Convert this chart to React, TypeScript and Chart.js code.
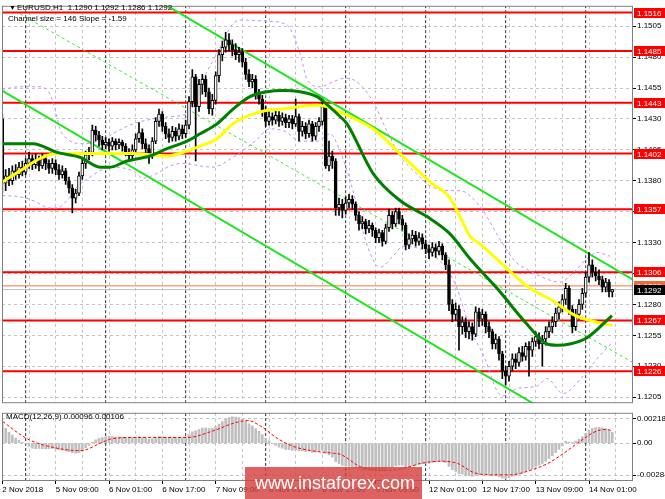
import React, { useEffect, useRef } from 'react';
import { Chart, registerables } from 'chart.js';

Chart.register(...registerables);

const FONT_FAMILY = '"Liberation Sans", Arial, sans-serif';

// ---------- EURUSD H1 candles, bar 0 = 2 Nov 17:00 ----------
const FIRST_OPEN = 1.143;
const CLOSES = [
  1.1378, 1.1384, 1.1380, 1.1388, 1.1385, 1.1391, 1.1387, 1.1394,
  1.1398, 1.1393, 1.1397, 1.1392, 1.1398, 1.1394, 1.1390, 1.1394,
  1.1389, 1.1385, 1.1388, 1.1380, 1.1374, 1.1366, 1.1370, 1.1384,
  1.1394, 1.1401, 1.1403, 1.1421, 1.1417, 1.1413, 1.1409, 1.1411,
  1.1408, 1.1412, 1.1409, 1.1411, 1.1408, 1.1403, 1.1400, 1.1405,
  1.1414, 1.1419, 1.1410, 1.1406, 1.1400, 1.1412, 1.1428, 1.1434,
  1.1424, 1.1418, 1.1415, 1.1420, 1.1416, 1.1422, 1.1418, 1.1425,
  1.1444, 1.1464, 1.1440, 1.1458, 1.1462, 1.1452, 1.1438, 1.1445,
  1.1465, 1.1482, 1.1488, 1.1494, 1.1490, 1.1486, 1.1482, 1.1484,
  1.1476, 1.1466, 1.1460, 1.1462, 1.1450, 1.1446, 1.1436, 1.1428,
  1.1432, 1.1429, 1.1433, 1.1428, 1.1431, 1.1427, 1.1430, 1.1426,
  1.1432, 1.1420, 1.1424, 1.1418, 1.1426, 1.1416, 1.1424, 1.1428,
  1.1440, 1.1392, 1.1400, 1.1396, 1.1358, 1.1361, 1.1356, 1.1362,
  1.1365, 1.1361, 1.1352, 1.1345, 1.1347, 1.1341, 1.1344, 1.1340,
  1.1334, 1.1338, 1.1331, 1.1342, 1.1352, 1.1345, 1.1355, 1.1349,
  1.1344, 1.1328, 1.1333, 1.1336, 1.1331, 1.1334, 1.1329, 1.1325,
  1.1322, 1.1326, 1.1323, 1.1327, 1.1320, 1.1312, 1.1280, 1.1272,
  1.1276, 1.1262, 1.1266, 1.1258, 1.1262, 1.1256, 1.1274, 1.1268,
  1.1272, 1.1262, 1.1258, 1.1248, 1.1252, 1.1240, 1.1226, 1.1222,
  1.1230, 1.1236, 1.1233, 1.1241, 1.1238, 1.1246, 1.1243, 1.1250,
  1.1254, 1.1248, 1.1252, 1.1258, 1.1262, 1.1266, 1.1273, 1.1278,
  1.1284, 1.1293, 1.1276, 1.1262, 1.1272, 1.1280, 1.1289, 1.1302,
  1.1312, 1.1306, 1.1303, 1.1300, 1.1294, 1.1298, 1.1290, 1.1292,
];
const HIGHS = [
  1.1434, 1.1389, 1.1390, 1.1392, 1.1393, 1.1395, 1.1396, 1.1398,
  1.1403, 1.1401, 1.1402, 1.1400, 1.1402, 1.1400, 1.1397, 1.1398,
  1.1397, 1.1393, 1.1392, 1.1390, 1.1383, 1.1377, 1.1373, 1.1387,
  1.1398, 1.1404, 1.1407, 1.1425, 1.1424, 1.1420, 1.1416, 1.1415,
  1.1414, 1.1415, 1.1414, 1.1414, 1.1413, 1.1410, 1.1406, 1.1409,
  1.1418, 1.1427, 1.1422, 1.1414, 1.1409, 1.1415, 1.1431, 1.1438,
  1.1436, 1.1427, 1.1422, 1.1424, 1.1423, 1.1426, 1.1425, 1.1429,
  1.1448, 1.1470, 1.1466, 1.1462, 1.1466, 1.1465, 1.1455, 1.1450,
  1.1468, 1.1486, 1.1493, 1.1500, 1.1499, 1.1494, 1.1491, 1.1488,
  1.1487, 1.1479, 1.1470, 1.1466, 1.1465, 1.1454, 1.1449, 1.1440,
  1.1436, 1.1435, 1.1437, 1.1436, 1.1435, 1.1434, 1.1433, 1.1433,
  1.1446, 1.1434, 1.1428, 1.1427, 1.1429, 1.1428, 1.1427, 1.1431,
  1.1446, 1.1442, 1.1412, 1.1404, 1.1398, 1.1366, 1.1365, 1.1367,
  1.1369, 1.1368, 1.1363, 1.1355, 1.1351, 1.1349, 1.1348, 1.1346,
  1.1342, 1.1341, 1.1340, 1.1345, 1.1357, 1.1355, 1.1358, 1.1358,
  1.1352, 1.1346, 1.1337, 1.1340, 1.1339, 1.1338, 1.1337, 1.1332,
  1.1328, 1.1330, 1.1329, 1.1331, 1.1329, 1.1322, 1.1316, 1.1284,
  1.1281, 1.1279, 1.1270, 1.1269, 1.1266, 1.1265, 1.1278, 1.1277,
  1.1276, 1.1274, 1.1266, 1.1260, 1.1256, 1.1254, 1.1242, 1.1230,
  1.1234, 1.1240, 1.1240, 1.1245, 1.1246, 1.1249, 1.1250, 1.1253,
  1.1258, 1.1257, 1.1255, 1.1262, 1.1266, 1.1270, 1.1277, 1.1282,
  1.1288, 1.1297, 1.1295, 1.1279, 1.1276, 1.1284, 1.1293, 1.1306,
  1.1322, 1.1316, 1.1310, 1.1308, 1.1303, 1.1301, 1.1300, 1.1292,
];
const LOWS = [
  1.1370, 1.1372, 1.1376, 1.1377, 1.1381, 1.1382, 1.1384, 1.1385,
  1.1390, 1.1389, 1.1390, 1.1388, 1.1390, 1.1389, 1.1386, 1.1386,
  1.1385, 1.1381, 1.1382, 1.1377, 1.1370, 1.1354, 1.1362, 1.1368,
  1.1381, 1.1390, 1.1397, 1.1400, 1.1412, 1.1408, 1.1405, 1.1406,
  1.1404, 1.1405, 1.1405, 1.1406, 1.1404, 1.1400, 1.1397, 1.1397,
  1.1402, 1.1411, 1.1406, 1.1402, 1.1394, 1.1398, 1.1410, 1.1424,
  1.1420, 1.1414, 1.1411, 1.1412, 1.1412, 1.1413, 1.1414, 1.1415,
  1.1422, 1.1440, 1.1396, 1.1436, 1.1450, 1.1448, 1.1434, 1.1433,
  1.1442, 1.1460, 1.1477, 1.1484, 1.1485, 1.1481, 1.1478, 1.1476,
  1.1472, 1.1462, 1.1456, 1.1455, 1.1446, 1.1442, 1.1432, 1.1424,
  1.1425, 1.1425, 1.1426, 1.1424, 1.1425, 1.1423, 1.1423, 1.1422,
  1.1424, 1.1412, 1.1416, 1.1414, 1.1415, 1.1412, 1.1413, 1.1420,
  1.1425, 1.1390, 1.1388, 1.1390, 1.1352, 1.1352, 1.1350, 1.1353,
  1.1358, 1.1357, 1.1348, 1.1340, 1.1341, 1.1337, 1.1338, 1.1335,
  1.1330, 1.1330, 1.1327, 1.1329, 1.1339, 1.1341, 1.1343, 1.1345,
  1.1340, 1.1324, 1.1325, 1.1329, 1.1327, 1.1328, 1.1325, 1.1321,
  1.1317, 1.1319, 1.1318, 1.1320, 1.1316, 1.1308, 1.1275, 1.1266,
  1.1267, 1.1243, 1.1256, 1.1253, 1.1252, 1.1251, 1.1254, 1.1262,
  1.1263, 1.1257, 1.1253, 1.1244, 1.1244, 1.1235, 1.1220, 1.1215,
  1.1218, 1.1226, 1.1228, 1.1230, 1.1234, 1.1235, 1.1222, 1.1238,
  1.1246, 1.1244, 1.1230, 1.1247, 1.1253, 1.1257, 1.1262, 1.1268,
  1.1274, 1.1280, 1.1272, 1.1257, 1.1259, 1.1268, 1.1276, 1.1286,
  1.1298, 1.1302, 1.1299, 1.1296, 1.1290, 1.1290, 1.1286, 1.1286,
];

// ---------- indicators: [bar, value] ----------
const MA_YELLOW = [
  [0, 1.1379], [5.3, 1.1388], [11.3, 1.1398], [16.4, 1.1402], [24.2, 1.1402], [32.3, 1.1402],
  [39.2, 1.1402], [44.3, 1.1401], [49.4, 1.1400], [55.4, 1.1404], [59.3, 1.1408], [64.4, 1.1414],
  [69.2, 1.1426], [74.3, 1.1433], [79.4, 1.1437], [84.2, 1.1438], [89.3, 1.1440], [94.4, 1.1441],
  [98.3, 1.1439], [103.4, 1.1433], [111.2, 1.1422], [119.3, 1.1402], [128.3, 1.1379], [134.3, 1.1366],
  [137.3, 1.1351], [140.3, 1.1335], [143.3, 1.1329], [151.4, 1.1309], [158.3, 1.1293], [165.2, 1.1283],
  [171.2, 1.1272], [176.3, 1.1267], [182.9, 1.1263],
];
const MA_GREEN = [
  [0, 1.1410], [9.2, 1.1410], [16.4, 1.1403], [23.3, 1.1399], [29.3, 1.1391], [32.3, 1.1391],
  [37.4, 1.1396], [44.3, 1.1400], [49.4, 1.1406], [55.4, 1.1412], [59.3, 1.1418], [64.4, 1.1426],
  [69.2, 1.1438], [74.3, 1.1448], [79.4, 1.1452], [84.2, 1.1453], [89.3, 1.1452], [94.4, 1.1448],
  [97.7, 1.1441], [101.3, 1.1432], [103.4, 1.1426], [111.2, 1.1386], [119.3, 1.1364], [127.4, 1.1351],
  [134.3, 1.1337], [140.3, 1.1317], [148.4, 1.1293], [157.4, 1.1264], [163.4, 1.1248], [166.4, 1.1247],
  [170.3, 1.1248], [175.4, 1.1253], [182.9, 1.1271],
];
const BAND_UPPER = [
  [0, 1.1454], [5.3, 1.1456], [11.3, 1.1456], [14.3, 1.1450], [15.8, 1.1438], [17.3, 1.1422],
  [19.4, 1.1414], [23.3, 1.1410], [29.3, 1.1412], [34.4, 1.1420], [39.2, 1.1426], [45.2, 1.1430],
  [51.2, 1.1432], [56.3, 1.1436], [59.3, 1.1457], [64.4, 1.1483], [69.2, 1.1507], [72.2, 1.1510],
  [79.4, 1.1509], [85.4, 1.1506], [89.3, 1.1483], [91.4, 1.1462], [95.3, 1.1456], [99.2, 1.1460],
  [102.8, 1.1463], [106.4, 1.1460], [111.2, 1.1444], [115.4, 1.1420], [119.3, 1.1400], [123.8, 1.1387],
  [128.3, 1.1376], [134.3, 1.1372], [137.3, 1.1372], [143.3, 1.1359], [149.9, 1.1330], [153.8, 1.1315],
  [158.3, 1.1307], [162.8, 1.1301], [167.3, 1.1298], [171.8, 1.1307], [175.4, 1.1317], [178.4, 1.1322],
  [182.3, 1.1319],
];
const BAND_LOWER = [
  [0, 1.1368], [5.3, 1.1367], [9.2, 1.1364], [14.3, 1.1358], [16.4, 1.1358], [19.4, 1.1364],
  [22.4, 1.1375], [26.3, 1.1383], [29.3, 1.1388], [32.3, 1.1391], [39.2, 1.1388], [42.2, 1.1382],
  [46.4, 1.1386], [50.3, 1.1392], [54.2, 1.1394], [59.3, 1.1392], [63.2, 1.1391], [69.2, 1.1399],
  [75.8, 1.1412], [80.3, 1.1422], [84.8, 1.1420], [89.3, 1.1412], [94.4, 1.1412], [98.3, 1.1418],
  [101.3, 1.1404], [105.2, 1.1372], [108.8, 1.1333], [113.3, 1.1310], [117.2, 1.1319], [120.2, 1.1327],
  [125.3, 1.1325], [131.3, 1.1315], [135.8, 1.1297], [140.3, 1.1261], [144.8, 1.1236], [148.4, 1.1210],
  [150.2, 1.1206], [154.4, 1.1212], [160.4, 1.1214], [163.4, 1.1220], [168.2, 1.1208], [174.2, 1.1222],
  [178.4, 1.1236], [182.9, 1.1249],
];
const CHANNEL_UPPER = [[48.5, 1.1523], [189.2, 1.1300]];
const CHANNEL_MID = [[5.3, 1.1515], [189.2, 1.1233]];
const CHANNEL_LOWER = [[-0.1, 1.1453], [159.2, 1.1200]];

const LEVELS = [1.1516, 1.1485, 1.1443, 1.1402, 1.1357, 1.1306, 1.1267, 1.1226];
const ASK_LEVEL = 1.1295;
const BID_LEVEL = 1.1292;
const PRICE_TICKS = [1.1205, 1.123, 1.1255, 1.128, 1.1305, 1.133, 1.1355, 1.138, 1.1405, 1.143, 1.1455, 1.148, 1.1505];

// ---------- MACD(12,26,9) ----------
const MACD_HIST = [
  0.00165, 0.0013, 0.00095, 0.0007, 0.00045, 0.00025, 0.00008, -0.0001,
  -0.0003, -0.00045, -0.0005, -0.00048, -0.0005, -0.00052, -0.0005, -0.00048,
  -0.00052, -0.00058, -0.00062, -0.00068, -0.00075, -0.00085, -0.0009, -0.00085,
  -0.00065, -0.0004, -0.0002, 0.0001, 0.0003, 0.00042, 0.0005, 0.00056,
  0.0006, 0.00058, 0.00056, 0.00055, 0.00054, 0.0005, 0.00046, 0.00048,
  0.00052, 0.00056, 0.0005, 0.00044, 0.00036, 0.0004, 0.0005, 0.00058,
  0.00056, 0.00052, 0.00048, 0.0005, 0.00048, 0.00052, 0.0005, 0.00056,
  0.00075, 0.001, 0.00108, 0.0012, 0.00132, 0.00135, 0.00128, 0.0013,
  0.00145, 0.00168, 0.0019, 0.00212, 0.00226, 0.00232, 0.0023, 0.00226,
  0.00212, 0.00192, 0.0017, 0.00152, 0.00128, 0.00105, 0.00075, 0.00042,
  0.0002, -0.00005, -0.0002, -0.00035, -0.00045, -0.00055, -0.00058, -0.00064,
  -0.0006, -0.00066, -0.0007, -0.00075, -0.00072, -0.00082, -0.0008, -0.00074,
  -0.00062, -0.0009, -0.00105, -0.00125, -0.00165, -0.00182, -0.00198, -0.00204,
  -0.00205, -0.0021, -0.0022, -0.00232, -0.00235, -0.00242, -0.0024, -0.00242,
  -0.00245, -0.00242, -0.00245, -0.00235, -0.0022, -0.00215, -0.002, -0.00195,
  -0.00195, -0.0021, -0.00208, -0.00198, -0.00195, -0.00185, -0.00182, -0.0018,
  -0.00178, -0.0017, -0.00168, -0.00162, -0.00165, -0.00172, -0.00205, -0.00235,
  -0.0025, -0.0027, -0.00275, -0.00285, -0.00288, -0.00295, -0.00285, -0.00282,
  -0.00278, -0.0028, -0.00282, -0.0029, -0.0029, -0.00298, -0.0031, -0.00315,
  -0.00305, -0.00295, -0.00288, -0.00275, -0.00265, -0.0025, -0.0024, -0.00225,
  -0.00205, -0.00195, -0.0018, -0.0016, -0.00135, -0.0011, -0.00085, -0.00055,
  -0.00025, 0.00015, 0.0001, 0.00002, 0.00018, 0.00035, 0.00055, 0.00085,
  0.00115, 0.0013, 0.00138, 0.0014, 0.00135, 0.00128, 0.00112, 0.00096,
];
const MACD_SIGNAL = [
  [0.1, 0.0019], [7.6, 0.00036], [14.5, -0.00033], [23.5, -0.00067], [29.5, 0.0], [32.5, 0.00036],
  [39.4, 0.0005], [55.6, 0.0005], [63.4, 0.0011], [69.4, 0.00176], [73.6, 0.002], [77.5, 0.0015],
  [82.6, 0.0004], [87.4, -0.0003], [94.6, -0.00075], [99.4, -0.0009], [101.5, -0.001], [107.5, -0.0021],
  [113.5, -0.0024], [119.5, -0.0023], [125.5, -0.0018], [131.5, -0.0016], [136.6, -0.0018], [141.4, -0.0026],
  [146.5, -0.0028], [152.5, -0.0028], [158.5, -0.0024], [163.6, -0.0018], [168.4, -0.0009], [173.5, 0.0002],
  [178.6, 0.0011], [181.6, 0.0012], [183, 0.00106],
];
const MACD_TICKS = [0.00218, 0, -0.00284];
const MACD_TICK_LABELS = ['0.00218', '0.00', '-0.00284'];

// ---------- time axis ----------
const GRID_BARS = [0, 8, 16, 24, 32, 40, 48, 56, 64, 72, 80, 88, 96, 104, 112, 120, 128, 136, 144, 152, 160, 168, 176, 184];
const SEPARATOR_BARS = [7, 31, 55, 79, 103, 127, 151, 175];
const DATE_BARS = [0, 16, 32, 48, 64, 80, 96, 112, 128, 144, 160, 176];
const DATE_LABELS = ['2 Nov 2018', '5 Nov 09:00', '6 Nov 01:00', '6 Nov 17:00', '7 Nov 09:00', '8 Nov 01:00',
  '8 Nov 17:00', '9 Nov 09:00', '12 Nov 01:00', '12 Nov 17:00', '13 Nov 09:00', '14 Nov 01:00'];

// ---------- layout constants ----------
const X_MIN = -0.1;
const X_MAX = 189.2;
const PRICE_MIN = 1.12001;
const PRICE_MAX = 1.15215;
const MACD_MIN = -0.00335;
const MACD_MAX = 0.00268;
const GRID_COLOR = '#c4c4c4';
const GRID_DASH = [3, 3];

const pts = (arr: number[][]) => arr.map(([x, y]) => ({ x, y }));
const line = (data: any[], color: string, width: number, extra: any = {}) => ({
  type: 'line', data, borderColor: color, borderWidth: width, pointRadius: 0, fill: false, ...extra,
});

const framePlugin = {
  id: 'frame',
  afterDraw(chart: any) {
    const { ctx, chartArea: a } = chart;
    ctx.save();
    ctx.strokeStyle = '#808080';
    ctx.lineWidth = 1;
    ctx.strokeRect(a.left + 0.5, a.top + 0.5, a.right - a.left - 1, a.bottom - a.top - 1);
    ctx.restore();
  },
};

const labelPlugin = {
  id: 'priceLabels',
  afterDraw(chart: any) {
    const { ctx, chartArea: a } = chart;
    const ys = chart.scales.y;
    ctx.save();
    ctx.font = `8px ${FONT_FAMILY}`;
    ctx.textBaseline = 'middle';
    ctx.textAlign = 'left';
    const box = (v: number, bg: string) => {
      const py = Math.round(ys.getPixelForValue(v));
      ctx.fillStyle = bg;
      ctx.fillRect(a.right + 1, py - 5, 665 - a.right - 1, 10);
      ctx.fillStyle = '#ffffff';
      ctx.fillText(v.toFixed(4), a.right + 4, py + 0.5);
    };
    LEVELS.forEach((v) => box(v, '#ff0000'));
    box(ASK_LEVEL, '#f26a3c');
    box(BID_LEVEL, '#000000');
    ctx.restore();
  },
};

function buildMain(canvas: HTMLCanvasElement) {
  const opens = CLOSES.map((c, i) => (i === 0 ? FIRST_OPEN : CLOSES[i - 1]));
  const bodies = CLOSES.map((c, i) => ({ x: i, y: [opens[i], c] }));
  const wicks = CLOSES.map((c, i) => ({ x: i, y: [LOWS[i], HIGHS[i]] }));
  const hLine = (v: number) => [{ x: X_MIN, y: v }, { x: X_MAX, y: v }];
  const levels = LEVELS.flatMap((v) => [{ x: X_MIN, y: v }, { x: X_MAX, y: v }, { x: X_MAX, y: null }]);
  const seps = SEPARATOR_BARS.flatMap((b) => [{ x: b, y: PRICE_MIN }, { x: b, y: PRICE_MAX }, { x: b, y: null }]);

  return new Chart(canvas, {
    type: 'bar',
    data: {
      datasets: [
        line(pts(MA_GREEN), '#008000', 3, { order: 0, cubicInterpolationMode: 'monotone' }),
        line(pts(MA_YELLOW), '#ffff00', 3, { order: 1, cubicInterpolationMode: 'monotone' }),
        {
          type: 'bar', data: bodies, order: 2, grouped: false, barThickness: 3,
          backgroundColor: (c: any) => (CLOSES[c.dataIndex] >= opens[c.dataIndex] ? '#ffffff' : '#000000'),
          borderColor: '#000000', borderWidth: 1, borderSkipped: false,
        },
        { type: 'bar', data: wicks, order: 3, grouped: false, barThickness: 1, backgroundColor: '#000000' },
        line(pts(BAND_UPPER), '#c690f0', 1, { order: 4, borderDash: [3, 3], cubicInterpolationMode: 'monotone' }),
        line(pts(BAND_LOWER), '#c690f0', 1, { order: 4, borderDash: [3, 3], cubicInterpolationMode: 'monotone' }),
        line(pts(CHANNEL_UPPER), '#1ee61e', 2, { order: 5 }),
        line(pts(CHANNEL_LOWER), '#1ee61e', 2, { order: 5 }),
        line(pts(CHANNEL_MID), '#3ee63e', 1, { order: 5, borderDash: [3, 3] }),
        line(hLine(ASK_LEVEL), '#f07848', 1, { order: 6 }),
        line(hLine(BID_LEVEL), '#c0c0c0', 1, { order: 6 }),
        line(levels, '#ff0000', 2, { order: 6, spanGaps: false }),
        line(seps, '#333333', 1, { order: 7, spanGaps: false, borderDash: [3, 2] }),
      ] as any,
    },
    options: {
      responsive: false,
      animation: false,
      events: [],
      layout: { padding: { left: 2, top: 2, right: 0, bottom: 2 } },
      plugins: { legend: { display: false }, tooltip: { enabled: false } },
      scales: {
        x: {
          type: 'linear', min: X_MIN, max: X_MAX, offset: false, bounds: 'data',
          afterBuildTicks: (s: any) => { s.ticks = GRID_BARS.map((v) => ({ value: v })); },
          afterFit: (s: any) => { s.height = 0; },
          ticks: { display: false },
          grid: { color: GRID_COLOR, lineWidth: 1, drawTicks: false, offset: false, borderDash: GRID_DASH },
          border: { display: false, dash: GRID_DASH },
        },
        y: {
          type: 'linear', position: 'right', min: PRICE_MIN, max: PRICE_MAX, beginAtZero: false, bounds: 'data',
          afterBuildTicks: (s: any) => { s.ticks = PRICE_TICKS.map((v) => ({ value: v })); },
          afterFit: (s: any) => { s.width = 32; },
          ticks: {
            autoSkip: false, padding: 1, color: '#000000', font: { family: FONT_FAMILY, size: 8 },
            callback: (v: any) => Number(v).toFixed(4),
          },
          grid: { color: GRID_COLOR, lineWidth: 1, drawTicks: true, tickLength: 3, tickColor: '#000000', borderDash: GRID_DASH },
          border: { display: false, dash: GRID_DASH },
        },
      },
    } as any,
    plugins: [framePlugin, labelPlugin],
  } as any);
}

function buildMacd(canvas: HTMLCanvasElement) {
  const seps = SEPARATOR_BARS.flatMap((b) => [{ x: b, y: MACD_MIN }, { x: b, y: MACD_MAX }, { x: b, y: null }]);
  return new Chart(canvas, {
    type: 'bar',
    data: {
      datasets: [
        line(pts(MACD_SIGNAL), '#ff0000', 1, { order: 0, borderDash: [3, 2], cubicInterpolationMode: 'monotone' }),
        {
          type: 'bar', data: MACD_HIST.map((v, i) => ({ x: i, y: v })), order: 1, grouped: false,
          barThickness: 2, backgroundColor: '#c0c0c0',
        },
        line(seps, '#333333', 1, { order: 2, spanGaps: false, borderDash: [3, 2] }),
      ] as any,
    },
    options: {
      responsive: false,
      animation: false,
      events: [],
      layout: { padding: { left: 2, top: 2, right: 0, bottom: 0 } },
      plugins: { legend: { display: false }, tooltip: { enabled: false } },
      scales: {
        x: {
          type: 'linear', min: X_MIN, max: X_MAX, offset: false, bounds: 'data',
          afterBuildTicks: (s: any) => { s.ticks = GRID_BARS.map((v) => ({ value: v })); },
          afterFit: (s: any) => { s.height = 18; },
          ticks: {
            autoSkip: false, maxRotation: 0, minRotation: 0, align: 'start', padding: 1,
            color: '#000000', font: { family: FONT_FAMILY, size: 8 },
            callback: (v: any) => { const k = DATE_BARS.indexOf(Number(v)); return k >= 0 ? DATE_LABELS[k] : ''; },
          },
          grid: {
            color: GRID_COLOR, lineWidth: 1, drawTicks: true, tickLength: 3, offset: false, borderDash: GRID_DASH,
            tickColor: (c: any) => (c.tick && DATE_BARS.indexOf(c.tick.value) >= 0 ? '#000000' : 'rgba(0,0,0,0)'),
          },
          border: { display: false, dash: GRID_DASH },
        },
        y: {
          type: 'linear', position: 'right', min: MACD_MIN, max: MACD_MAX, beginAtZero: false, bounds: 'data',
          afterBuildTicks: (s: any) => { s.ticks = MACD_TICKS.map((v) => ({ value: v })); },
          afterFit: (s: any) => { s.width = 32; },
          ticks: {
            autoSkip: false, padding: 1, color: '#000000', font: { family: FONT_FAMILY, size: 8 },
            callback: (_v: any, idx: number) => MACD_TICK_LABELS[idx],
          },
          grid: { color: GRID_COLOR, lineWidth: 1, drawTicks: true, tickLength: 3, tickColor: '#000000', borderDash: GRID_DASH },
          border: { display: false, dash: GRID_DASH },
        },
      },
    } as any,
    plugins: [framePlugin],
  } as any);
}

export default function App() {
  const mainRef = useRef<HTMLCanvasElement>(null);
  const macdRef = useRef<HTMLCanvasElement>(null);

  useEffect(() => {
    const a = buildMain(mainRef.current as HTMLCanvasElement);
    const b = buildMacd(macdRef.current as HTMLCanvasElement);
    return () => { a.destroy(); b.destroy(); };
  }, []);

  const txt: React.CSSProperties = { position: 'absolute', fontSize: 8, lineHeight: '10px', color: '#000', whiteSpace: 'pre' };

  return (
    <div style={{ position: 'fixed', left: 0, top: 0, width: 665, height: 499, background: '#ffffff', overflow: 'hidden', fontFamily: FONT_FAMILY }}>
      <canvas ref={mainRef} width={665} height={409} style={{ position: 'absolute', left: 0, top: 0 }} />
      <canvas ref={macdRef} width={665} height={92} style={{ position: 'absolute', left: 0, top: 407 }} />
      <div style={{ ...txt, left: 9, top: 3, fontSize: 7 }}>▼</div>
      <div style={{ ...txt, left: 17, top: 3 }}>EURUSD,H1  1.1290 1.1292 1.1286 1.1292</div>
      <div style={{ ...txt, left: 8, top: 14 }}>Channel size = 146 Slope = -1.59</div>
      <div style={{ ...txt, left: 6, top: 412 }}>MACD(12,26,9) 0.00096 0.00106</div>
      <div style={{
        position: 'absolute', left: 245, top: 467, width: 177, height: 32, boxSizing: 'border-box',
        background: 'rgba(214, 64, 64, 0.82)', color: '#ffffff', fontSize: 18, lineHeight: '32px', paddingLeft: 10,
        whiteSpace: 'nowrap',
      }}>www.instaforex.com</div>
    </div>
  );
}
